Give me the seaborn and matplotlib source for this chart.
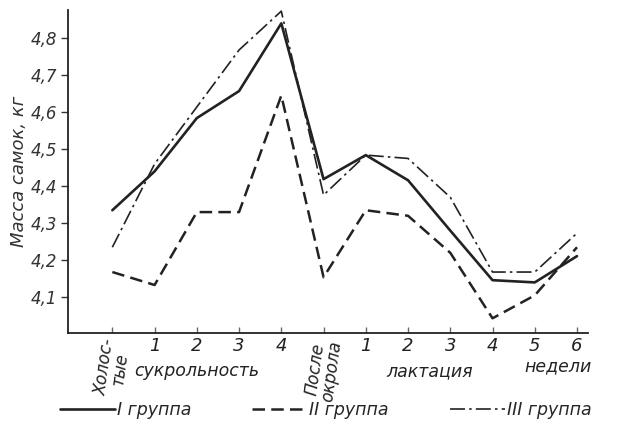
import matplotlib
matplotlib.use("Agg")
import matplotlib.pyplot as plt
import seaborn as sns
import pandas as pd
import numpy as np

periods = ["Холос-\nтые", "1", "2", "3", "4", "После\nокрола", "1", "2", "3", "4", "5", "6"]
group_I = [4.335, 4.44, 4.584, 4.657, 4.84, 4.419, 4.484, 4.416, 4.28, 4.146, 4.14, 4.211]
group_II = [4.168, 4.133, 4.33, 4.33, 4.645, 4.154, 4.335, 4.32, 4.22, 4.043, 4.105, 4.235]
group_III = [4.235, 4.46, 4.614, 4.768, 4.873, 4.376, 4.484, 4.475, 4.37, 4.168, 4.168, 4.273]
group_names = ["I группа", "II группа", "III группа"]
yticks = [4.1, 4.2, 4.3, 4.4, 4.5, 4.6, 4.7, 4.8]

sns.set_theme(style="white")
plt.rcParams['font.family'] = ['DejaVu Sans']

rows = []
for name, vals in zip(group_names, [group_I, group_II, group_III]):
    for i, v in enumerate(vals):
        rows.append({"pos": i, "mass": v, "group": name})
df = pd.DataFrame(rows)

fig = plt.figure(figsize=(6.26, 4.36), dpi=100)
ax = fig.add_axes([0.1086, 0.236, 0.83, 0.741])

dashes = {"I группа": "", "II группа": (5, 2.5), "III группа": (9, 2.5, 1.5, 2.5)}
sns.lineplot(data=df, x="pos", y="mass", style="group", dashes=dashes,
             color="#222222", ax=ax, legend=False)
lws = [1.9, 1.8, 1.2]
for line, lw in zip(ax.get_lines(), lws):
    line.set_linewidth(lw)

ax.set_xlim(-1.05, 11.25)
ax.set_ylim(4.003, 4.876)
sns.despine(ax=ax)
ax.spines['left'].set_color('#222222')
ax.spines['bottom'].set_color('#222222')
ax.spines['left'].set_linewidth(1.3)
ax.spines['bottom'].set_linewidth(1.3)

ax.set_yticks(yticks)
ax.set_yticklabels([f"{v:.1f}".replace(".", ",") for v in yticks],
                   fontsize=12, style="italic", color="#333333")
ax.tick_params(axis="y", direction="out", length=5, width=1, color="#333333", pad=3, left=True)

ax.set_xticks(range(len(periods)))
ax.set_xticklabels(periods, fontsize=13, style="italic", color="#222222")
ax.tick_params(axis="x", direction="in", length=4, width=1, color="#666666", pad=3, bottom=True)
for i, lab in enumerate(ax.get_xticklabels()):
    if "\n" in periods[i]:
        lab.set_rotation(82)
        lab.set_fontsize(12)
        lab.set_linespacing(0.85)
        lab.set_va("top")
        lab.set_ha("center")

ax.set_xlabel("")
ax.set_ylabel("Масса самок, кг", fontsize=13, style="italic", color="#333333", labelpad=2)

ax.text(2.0, -0.09, "сукрольность", transform=ax.get_xaxis_transform(),
        ha="center", va="top", fontsize=12.5, style="italic", color="#222222")
ax.text(7.5, -0.09, "лактация", transform=ax.get_xaxis_transform(),
        ha="center", va="top", fontsize=12.5, style="italic", color="#222222")
ax.text(10.55, -0.075, "недели", transform=ax.get_xaxis_transform(),
        ha="center", va="top", fontsize=12.5, style="italic", color="#222222")

handles = ax.get_lines()[:3]
fig.legend(handles, group_names, loc="center", bbox_to_anchor=(0.52, 0.06), ncol=3,
           frameon=False, fontsize=12.5, handlelength=3.2, columnspacing=3.5,
           handletextpad=0.1, prop={"style": "italic", "size": 12.5})

fig.savefig("out.png", dpi=100)
